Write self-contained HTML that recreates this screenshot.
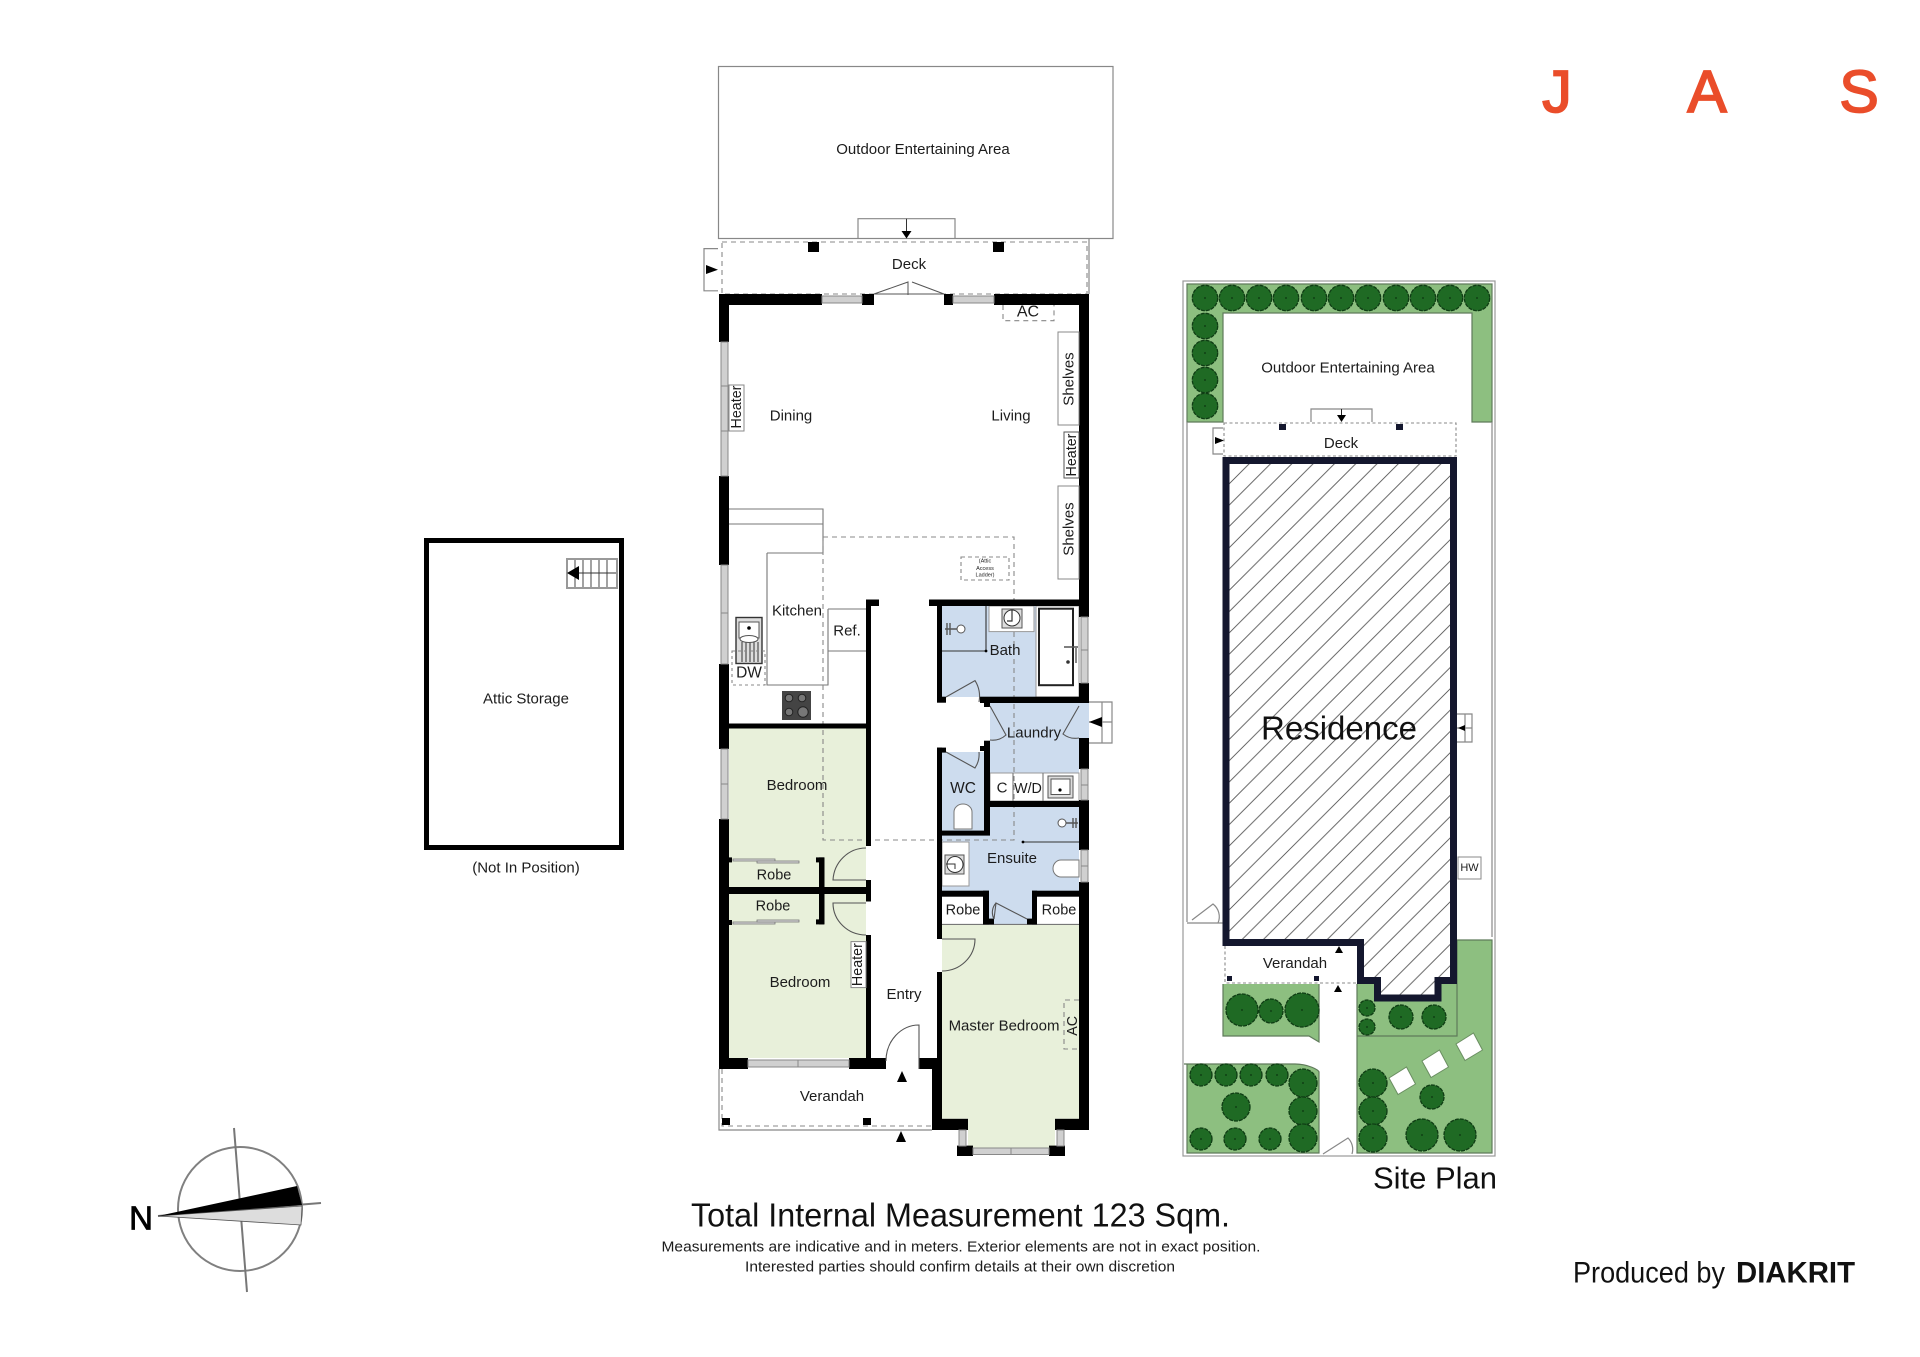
<!DOCTYPE html>
<html><head><meta charset="utf-8"><title>Floor Plan</title>
<style>
html,body{margin:0;padding:0;background:#fff}
svg{display:block;filter:blur(.35px)}
text{font-family:"Liberation Sans",sans-serif;fill:#1c1c1c;text-anchor:middle;dominant-baseline:central;font-size:15px}
.sm{font-size:14.3px}.xs{font-size:5.5px}.rb{font-size:14.5px}
.l{fill:none;stroke:#777;stroke-width:1.1}
.g{fill:none;stroke:#888;stroke-width:1.2}
.d{fill:none;stroke:#888;stroke-width:1.1;stroke-dasharray:5 4}
.dk{fill:none;stroke:#333;stroke-width:1.2}
.win{fill:#d0d0d0;stroke:#888;stroke-width:1}
.t circle{fill:#1f6a24;stroke:#0f3d14;stroke-width:1.3;stroke-dasharray:4 1}
</style></head><body>
<svg xmlns="http://www.w3.org/2000/svg" width="1920" height="1357" viewBox="0 0 1920 1357">
<defs>
<pattern id="h" patternUnits="userSpaceOnUse" width="21.3" height="21.3" patternTransform="translate(1713 0)">
<path d="M-1 22.3L22.3 -1M-1 1L1 -1M20.3 22.3L22.3 20.3" stroke="#555" stroke-width=".9" fill="none"/>
</pattern>
</defs>
<rect width="1920" height="1357" fill="#fff"/>

<!-- Logo -->
<g style="stroke:#ea4d2a;stroke-width:1.8">
<text x="1557" y="92" style="font-size:59px;fill:#ea4d2a">J</text>
<text x="1707" y="92" style="font-size:59px;fill:#ea4d2a">A</text>
<text x="1859" y="92" style="font-size:59px;fill:#ea4d2a">S</text>
</g>

<!-- Attic -->
<rect x="426.500" y="540.500" width="195" height="307" fill="#fff" stroke="#000" stroke-width="5"/>
<rect x="567" y="559" width="50" height="29" fill="#fff" stroke="#999" stroke-width="2"/>
<path class="dk" style="stroke-width:.9" d="M575 560V587M583 560V587M591 560V587M599 560V587M607 560V587M568 573H616"/>
<path d="M567 573L579 566V580Z" fill="#000"/>
<text x="526" y="699">Attic Storage</text>
<text x="526" y="868">(Not In Position)</text>

<!-- Outdoor + deck -->
<rect x="718.500" y="66.500" width="394.500" height="172" fill="#fff" class="g"/>
<path class="g" d="M858 238.500V218.700H955V238.500"/>
<path d="M906.500 218.700V231" stroke="#333"/><path d="M901.500 231H911.500L906.500 238.500Z" fill="#000"/>
<path class="g" d="M718 248.600H704V290.800H718"/><path d="M706 265V274L718 269.700Z" fill="#000"/>
<rect x="722" y="242" width="365" height="52" class="d"/>
<path class="g" d="M1089 238.500V294"/>
<rect x="808" y="242" width="11" height="10"/><rect x="993" y="242" width="11" height="10"/>
<text x="909" y="264.500">Deck</text>
<text x="923" y="149.500">Outdoor Entertaining Area</text>
<path class="dk" style="stroke:#555;stroke-width:1" d="M874 294L908 282V295M912 282L944 294M874 294H944"/>

<!-- Room fills -->
<rect x="729" y="728" width="137" height="159" fill="#e8f0da"/>
<rect x="729" y="893" width="137" height="165" fill="#e8f0da"/>
<path d="M942 924.400H1079V1118.700H1055V1148H968V1118.700H942Z" fill="#e8f0da"/>
<rect x="942" y="606" width="137" height="91" fill="#cddcee"/>
<path d="M990 703H1089V738H1079V773H990Z" fill="#cddcee"/>
<rect x="942" y="752" width="42" height="79" fill="#cddcee"/>
<path d="M990 807H1079V891H1037V925H989V891H942V835H990Z" fill="#cddcee"/>

<!-- White fixtures -->
<rect x="989" y="606" width="45" height="25.600" fill="#fff" stroke="#999"/>
<rect x="1036" y="606" width="43" height="91" fill="#fff" stroke="#999"/>
<rect x="1039" y="608.700" width="34" height="76.500" fill="#fff" stroke="#222" stroke-width="2"/>
<rect x="990" y="773" width="89" height="28" fill="#fff" stroke="#999"/>
<path class="l" d="M1013 773V801M1043 773V801"/>
<rect x="942" y="842" width="27" height="44" fill="#fff" stroke="#999"/>
<rect x="942" y="897" width="41" height="27.400" fill="#fff"/>
<rect x="1037" y="897" width="42" height="27.400" fill="#fff"/>
<path class="l" d="M942 924.400H1079"/>

<!-- Kitchen -->
<path class="l" d="M729 509H823V553M729 524H823M767 553H823M767 553V685H828V651M828 609H866M828 609V651H866"/>
<rect x="736" y="617.500" width="26" height="46" fill="#ddd" stroke="#333" stroke-width="1.4"/>
<rect x="739" y="622" width="20" height="16" fill="#fff" stroke="#555"/>
<path stroke="#333" d="M742 642V662M746 642V662M750 642V662M754 642V662M758 642V662" fill="none"/>
<circle cx="749" cy="628" r="1.800"/><ellipse cx="749" cy="639" rx="9" ry="3.500" fill="#fff" stroke="#555"/>
<rect x="732" y="651" width="33" height="34" class="d" style="stroke-dasharray:3 3"/>
<text x="749" y="673" style="font-size:15.500px">DW</text>
<rect x="782" y="691" width="29" height="29" fill="#444"/>
<g fill="#777" stroke="#222"><circle cx="789" cy="698" r="3.800"/><circle cx="802" cy="698" r="3.800"/><circle cx="789" cy="712" r="3.800"/><circle cx="803" cy="712" r="5.200"/></g>

<!-- Attic dashed outlines -->
<path class="d" d="M823 537H1014V606M1014 632V840H823V537"/>
<rect x="961" y="557" width="48" height="23" class="d" style="stroke-dasharray:4 3"/>
<text class="xs" x="985" y="561.500">(Attic</text><text class="xs" x="985" y="569">Access</text><text class="xs" x="985" y="575.600">Ladder)</text>

<!-- Main walls -->
<g fill="#000">
<rect x="719" y="294" width="103" height="11"/><rect x="862" y="294" width="12" height="11"/><rect x="944" y="294" width="9" height="11"/><rect x="994" y="294" width="95" height="11"/>
<rect x="719" y="305" width="10" height="37"/><rect x="719" y="476" width="10" height="89"/><rect x="719" y="664" width="10" height="85"/><rect x="719" y="819" width="10" height="250"/>
<rect x="1079" y="305" width="10" height="312"/><rect x="1079" y="683" width="10" height="20"/><rect x="1079" y="738" width="10" height="31"/><rect x="1079" y="800" width="10" height="50"/><rect x="1079" y="882" width="10" height="248"/>
<rect x="866" y="599.500" width="5" height="246.500"/><rect x="866" y="599.500" width="13" height="6.500"/><rect x="866" y="880" width="5" height="21.500"/><rect x="866" y="935" width="5" height="124"/>
<rect x="729" y="723.500" width="137" height="5"/><rect x="729" y="887" width="142" height="7"/>
<rect x="819" y="857.400" width="5.500" height="67"/><rect x="816" y="857.400" width="8" height="5"/><rect x="816" y="919.400" width="8" height="5"/>
<rect x="729" y="1058" width="19" height="11"/><rect x="849" y="1058" width="37" height="11"/><rect x="919" y="1058" width="18" height="11"/>
<rect x="929" y="599.500" width="150" height="6.500"/><rect x="937" y="599.500" width="5" height="103"/><rect x="937" y="696.700" width="9" height="6"/>
<rect x="980" y="696.700" width="99" height="6.300"/><rect x="984" y="703" width="6" height="4"/>
<rect x="937" y="747.600" width="5" height="191.400"/><rect x="937" y="747.600" width="9" height="5"/><rect x="984" y="740.700" width="6" height="94"/><rect x="980" y="746" width="10" height="5"/>
<rect x="937" y="830.600" width="53" height="5"/><rect x="984" y="801" width="95" height="6"/>
<rect x="937" y="890.700" width="52" height="6"/><rect x="983" y="890.700" width="6" height="33.700"/><rect x="1032" y="890.700" width="47" height="6"/><rect x="1032" y="890.700" width="5" height="33.700"/>
<rect x="983" y="918.600" width="11" height="5.800"/><rect x="1027" y="918.600" width="10" height="5.800"/>
<rect x="937" y="972" width="5" height="158"/><rect x="932" y="1058" width="10" height="72"/>
<rect x="932" y="1118.800" width="36" height="11.200"/><rect x="1055" y="1118.800" width="34" height="11.200"/>
<rect x="957" y="1145.600" width="16" height="10.400"/><rect x="1049" y="1145.600" width="16" height="10.400"/>
<rect x="729" y="857.400" width="3" height="5"/><rect x="729" y="920" width="3" height="5"/>
</g>

<!-- Windows -->
<g class="win">
<rect x="822" y="296" width="40" height="7"/><rect x="953" y="296" width="41" height="7"/>
<rect x="721" y="342" width="7" height="134"/><rect x="721" y="565" width="7" height="99"/><rect x="721" y="749" width="7" height="70"/>
<rect x="1081" y="617" width="7" height="66"/><rect x="1081" y="769" width="7" height="31"/><rect x="1081" y="850" width="7" height="32"/>
<rect x="748" y="1060" width="101" height="7"/><rect x="973" y="1148" width="76" height="6.500"/>
<rect x="959" y="1130" width="7" height="16"/><rect x="1057" y="1130" width="7" height="16"/>
</g>
<path stroke="#888" d="M721 386H728M721 431H728M721 613H728M721 784H728M1081 650H1088M1081 785H1088M1081 866H1088M798 1060V1067M1011 1148V1155" fill="none"/>

<!-- Robe sliders -->
<g fill="#ddd" stroke="#777" stroke-width=".8">
<rect x="733" y="859" width="42" height="2"/><rect x="757" y="861" width="42" height="2"/>
<rect x="733" y="922" width="42" height="2"/><rect x="757" y="920" width="42" height="2"/>
</g>

<!-- Doors -->
<g class="l" style="stroke:#555">
<path d="M866 880H833A33 34 0 0 1 866 848"/>
<path d="M866 903H833A33 32 0 0 0 866 935"/>
<path d="M942 939H975A33 32 0 0 1 942 971"/>
<path d="M919 1069V1025A33 36 0 0 0 886 1061"/>
<path d="M946 697L975 680.600A30 30 0 0 1 979 702"/>
<path d="M990 706L1006 735A20 20 0 0 1 990 740"/>
<path d="M1079 706L1063 734A20 20 0 0 0 1079 738"/>
<path d="M946 752L975 768A25 25 0 0 0 979 752"/>
<path d="M994 919L996 903L1027 919M994 919A14 14 0 0 1 996 903"/>
</g>

<!-- Shelves, heaters, AC -->
<rect x="1058" y="332" width="21" height="93" fill="#fff" stroke="#888"/>
<rect x="1064" y="432" width="15" height="46" fill="#fff" stroke="#555"/>
<rect x="1058" y="486" width="21" height="93" fill="#fff" stroke="#888"/>
<rect x="729" y="385" width="15" height="46" fill="#fff" stroke="#888"/>
<rect x="851" y="941.600" width="15" height="46" fill="#fff" stroke="#888"/>
<path class="d" d="M1003 305V320.700H1054V305"/>
<path class="d" d="M1079 1000H1064V1049H1079"/>

<!-- Bath fixtures -->
<path class="dk" style="stroke-width:1.1" d="M986 606V651H942"/>
<circle cx="986" cy="651" r="1.400"/>
<rect x="1002" y="609" width="20" height="19" fill="#ddd" stroke="#555"/><circle cx="1012" cy="618" r="8" fill="#fff" stroke="#333"/>
<path d="M1012 610V621H1007" stroke="#333" fill="none" stroke-width="1.2"/>
<circle cx="961" cy="629" r="4" fill="#fff" stroke="#555"/><path d="M945 629H957M947 623V635M950 623V635" stroke="#555" fill="none" stroke-width="1.4"/>
<path d="M1064 647H1078M1076 648V663" stroke="#555" fill="none" stroke-width="1.4"/><circle cx="1068" cy="662" r="1.800" fill="#333"/>
<rect x="1048" y="776" width="25" height="22" fill="#ddd" stroke="#555"/><rect x="1051" y="779" width="19" height="15.500" fill="#fff" stroke="#555"/><circle cx="1060" cy="790" r="1.600"/>
<rect x="954" y="817" width="18" height="12" fill="#fff" stroke="#888"/>
<path d="M954 829V812A9 8 0 0 1 972 812V829Z" fill="#fff" stroke="#777"/>
<rect x="945" y="855" width="19" height="19" fill="#ddd" stroke="#555"/><circle cx="955" cy="864.500" r="8" fill="#fff" stroke="#333"/><path d="M946 864H955V869" stroke="#333" fill="none"/>
<path class="dk" style="stroke-width:1.1" d="M1023 842H1079"/><circle cx="1023" cy="842" r="1.400"/>
<circle cx="1062" cy="823" r="4" fill="#fff" stroke="#555"/><path d="M1066 823H1078M1076 818V828M1073 818V828" stroke="#555" fill="none" stroke-width="1.4"/>
<path d="M1079 860H1061A8 8.500 0 0 0 1061 877H1079Z" fill="#fff" stroke="#777"/>

<!-- Verandah -->
<path class="g" d="M719 1069V1130H932"/>
<path class="d" d="M722 1069V1126H932"/>
<rect x="722" y="1118" width="8" height="7"/><rect x="863" y="1118" width="8" height="7"/>
<path d="M897 1082L902 1071L907 1082Z"/><path d="M896 1142L901 1131L906 1142Z"/>

<!-- Laundry steps -->
<path class="g" d="M1089 702H1112V743H1089M1102 702V743M1089 722H1112"/>
<path d="M1089 722L1102 717V727Z"/>

<!-- Labels main -->
<text x="791" y="415.800">Dining</text><text x="1011" y="415.800">Living</text>
<text transform="rotate(-90 1069 379)" x="1069" y="379">Shelves</text>
<text transform="rotate(-90 1072 455)" x="1072" y="455" class="sm">Heater</text>
<text transform="rotate(-90 1069 529)" x="1069" y="529">Shelves</text>
<text transform="rotate(-90 737 407)" x="737" y="407" class="sm">Heater</text>
<text transform="rotate(-90 858 964.600)" x="858" y="964.600" class="sm">Heater</text>
<text transform="rotate(-90 1073 1025.800)" x="1073" y="1025.800" class="sm">AC</text>
<text x="1028" y="312" style="font-size:16px">AC</text>
<text x="797" y="611">Kitchen</text><text x="847" y="631">Ref.</text>
<text x="797" y="785.500">Bedroom</text><text x="774" y="875.500" class="rb">Robe</text><text x="773" y="906.500" class="rb">Robe</text>
<text x="800" y="982.500">Bedroom</text><text x="904" y="994.400">Entry</text>
<text x="1004" y="1025.800">Master Bedroom</text><text x="832" y="1096.500">Verandah</text>
<text x="1005" y="650.500">Bath</text><text x="1034" y="733">Laundry</text><text x="963" y="788.500" style="font-size:15.500px">WC</text>
<text x="1002" y="788">C</text><text x="1028" y="789" class="sm">W/D</text>
<text x="1012" y="858.500">Ensuite</text><text x="963" y="910.500" class="rb">Robe</text><text x="1059" y="910.500" class="rb">Robe</text>

<!-- SITE PLAN -->
<rect x="1183" y="281" width="312" height="875" fill="#fff" stroke="#999" stroke-width="1.200"/>
<path d="M1187 284H1492V422H1472V313H1223V422H1187Z" fill="#8dbf80"/>
<path d="M1357 984H1457V940H1492V1153H1357Z" fill="#8dbf80"/>
<path d="M1223 984H1319V1042L1309 1036H1223Z" fill="#8dbf80"/>
<path d="M1184 1064H1295C1308 1064 1319 1070 1319 1072V1153H1187V1064Z" fill="#8dbf80"/>
<path class="g" style="stroke:#5f7a5a" d="M1187 284H1492V422H1472V313H1223V422H1187ZM1357 984V1153H1492V940H1457V984M1357 1036H1457V984M1223 984V1036H1309L1319 1042V984M1184 1064H1295C1308 1064 1319 1070 1319 1072V1153H1187V1064"/>
<path class="g" d="M1187 422V922M1492 422V937M1187 923H1223"/>
<path class="g" d="M1192 920L1213 904A16 16 0 0 1 1218 923"/>
<path class="g" d="M1323 1154L1348 1138A16 16 0 0 1 1352 1154"/>
<path class="g" d="M1311 422V409H1372V422"/><path d="M1341.500 409V416" stroke="#222"/><path d="M1337 415H1346L1341.500 422Z"/>
<path class="g" d="M1223 428H1213V454H1223"/><path d="M1215 437V444L1224 440.500Z"/>
<rect x="1224" y="423" width="232" height="33" class="d" style="stroke-dasharray:3 2.500"/>
<rect x="1279" y="424" width="7" height="6" fill="#14172e"/><rect x="1396" y="424" width="7" height="6" fill="#14172e"/>
<path class="g" d="M1457 714H1472V742H1457M1465 714V742M1457 728H1472"/><path d="M1458 728L1465 725V731Z"/>
<rect x="1458" y="857" width="23" height="22" fill="#fff" stroke="#888"/>
<text x="1469.500" y="868" style="font-size:11px">HW</text>

<!-- Residence -->
<path d="M1226 460.500H1453.500V980.500H1438V998H1377.500V980.500H1360.500V942.500H1226Z" fill="#fff"/>
<path d="M1226 460.500H1453.500V980.500H1438V998H1377.500V980.500H1360.500V942.500H1226Z" fill="url(#h)" stroke="#14172e" stroke-width="7"/>
<rect x="1223" y="946" width="134" height="38" fill="#fff"/>
<path class="d" style="stroke-dasharray:3 2.500" d="M1225 946V983H1357"/>
<rect x="1227" y="976" width="5" height="5" fill="#14172e"/><rect x="1314" y="976" width="5" height="5" fill="#14172e"/>
<path d="M1335 953L1339 946L1343 953Z"/><path d="M1334 992L1338 985L1342 992Z"/>
<text x="1339" y="728" style="font-size:33px;fill:#111">Residence</text>
<text x="1348" y="368">Outdoor Entertaining Area</text>
<text x="1341" y="443.500">Deck</text>
<text x="1295" y="963.500">Verandah</text>
<text x="1435" y="1178" style="font-size:31px;fill:#111">Site Plan</text>

<!-- Stones -->
<g fill="#fff" stroke="#6b8f62">
<path d="M1389 1078L1406.500 1067L1415.500 1084L1398 1094.500Z"/>
<path d="M1422 1061L1439.500 1050L1448.500 1067L1431 1077.500Z"/>
<path d="M1456 1044L1473.500 1033L1482.500 1050L1465 1060.500Z"/>
</g>

<!-- Trees -->
<g class="t">
<circle cx="1205" cy="298" r="12.700"/><circle cx="1232" cy="298" r="12.700"/><circle cx="1259" cy="298" r="12.700"/><circle cx="1286" cy="298" r="12.700"/><circle cx="1314" cy="298" r="12.700"/><circle cx="1341" cy="298" r="12.700"/><circle cx="1368" cy="298" r="12.700"/><circle cx="1396" cy="298" r="12.700"/><circle cx="1423" cy="298" r="12.700"/><circle cx="1450" cy="298" r="12.700"/><circle cx="1477" cy="298" r="12.700"/>
<circle cx="1205" cy="326" r="12.700"/><circle cx="1205" cy="353" r="12.700"/><circle cx="1205" cy="380" r="12.700"/><circle cx="1205" cy="406" r="12.700"/>
<circle cx="1242" cy="1010" r="16"/><circle cx="1271" cy="1011" r="12"/><circle cx="1302" cy="1010" r="17"/>
<circle cx="1367" cy="1008" r="8"/><circle cx="1367" cy="1027" r="8"/><circle cx="1401" cy="1017" r="12"/><circle cx="1434" cy="1017" r="12"/>
<circle cx="1201" cy="1075" r="11"/><circle cx="1226" cy="1075" r="11"/><circle cx="1251" cy="1075" r="11"/><circle cx="1277" cy="1075" r="11"/>
<circle cx="1303" cy="1083" r="14"/><circle cx="1303" cy="1111" r="14"/><circle cx="1303" cy="1138" r="14"/>
<circle cx="1236" cy="1107" r="14"/><circle cx="1201" cy="1139" r="11"/><circle cx="1235" cy="1139" r="11"/><circle cx="1270" cy="1139" r="11"/>
<circle cx="1373" cy="1083" r="14"/><circle cx="1373" cy="1111" r="14"/><circle cx="1373" cy="1138" r="14"/>
<circle cx="1432" cy="1097" r="12"/><circle cx="1422" cy="1135" r="16"/><circle cx="1460" cy="1135" r="16"/>
</g>
<!-- Tree centre dots -->
<path fill="none" stroke="#0c3510" stroke-width="1.800" stroke-linecap="round" d="M1205 298h0M1232 298h0M1259 298h0M1286 298h0M1314 298h0M1341 298h0M1368 298h0M1396 298h0M1423 298h0M1450 298h0M1477 298h0M1205 326h0M1205 353h0M1205 380h0M1205 406h0M1242 1010h0M1271 1011h0M1302 1010h0M1367 1008h0M1367 1027h0M1401 1017h0M1434 1017h0M1201 1075h0M1226 1075h0M1251 1075h0M1277 1075h0M1303 1083h0M1303 1111h0M1303 1138h0M1236 1107h0M1201 1139h0M1235 1139h0M1270 1139h0M1373 1083h0M1373 1111h0M1373 1138h0M1432 1097h0M1422 1135h0M1460 1135h0"/>

<!-- Compass -->
<circle cx="240" cy="1209" r="62" fill="#fff" stroke="#808080" stroke-width="2"/>
<path d="M234 1128L247 1292M158 1216L321 1203" stroke="#777" stroke-width="2" fill="none"/>
<path d="M158 1216L302 1206L301 1225Z" fill="#ddd" stroke="#555" stroke-width=".8"/>
<path d="M158 1216L297 1186L302 1205Z" fill="#000"/>
<text x="141" y="1218" style="font-size:33px;fill:#000;stroke:#000;stroke-width:.8">N</text>

<!-- Footer text -->
<text x="960.500" y="1215" textLength="539" lengthAdjust="spacingAndGlyphs" style="font-size:33px;fill:#111">Total Internal Measurement 123 Sqm.</text>
<text x="961" y="1247" textLength="599" lengthAdjust="spacingAndGlyphs" style="font-size:15px">Measurements are indicative and in meters. Exterior elements are not in exact position.</text>
<text x="960" y="1267" textLength="430" lengthAdjust="spacingAndGlyphs" style="font-size:15px">Interested parties should confirm details at their own discretion</text>
<text x="1649" y="1273" textLength="152" lengthAdjust="spacingAndGlyphs" style="font-size:30px;fill:#111">Produced by</text>
<text x="1795.500" y="1273" textLength="119" lengthAdjust="spacingAndGlyphs" style="font-size:30px;font-weight:bold;fill:#111">DIAKRIT</text>
</svg>
</body></html>
